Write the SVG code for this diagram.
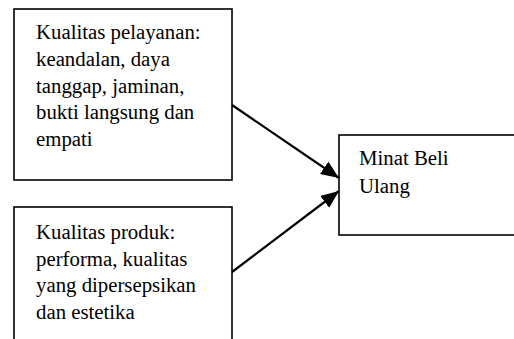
<svg xmlns="http://www.w3.org/2000/svg" width="514" height="339" viewBox="0 0 514 339">
<style>
.box{fill:#fff;stroke:#000;stroke-width:1.6}
.t{font-family:"Liberation Serif","Times New Roman","DejaVu Serif",serif;font-size:20.8px;fill:#000}
.c{stroke:#000;stroke-width:2.2;fill:none}
</style>
<defs>
<marker id="ah2" viewBox="0 0 12 10" refX="12" refY="5" markerWidth="18" markerHeight="15" markerUnits="userSpaceOnUse" orient="auto">
<path d="M0,0 L12,5 L0,10 z" fill="#000"/>
</marker>
</defs>
<rect width="514" height="339" fill="#fff"/>
<g id="n1">
<rect class="box" x="14" y="9" width="218" height="171"/>
<text class="t" x="36" y="39">Kualitas pelayanan:</text>
<text class="t" x="36" y="66">keandalan, daya</text>
<text class="t" x="36" y="92.5">tanggap, jaminan,</text>
<text class="t" x="36" y="119">bukti langsung dan</text>
<text class="t" x="36" y="145.5">empati</text>
</g>
<g id="n2">
<rect class="box" x="14" y="207" width="218" height="150"/>
<text class="t" x="36" y="239">Kualitas produk:</text>
<text class="t" x="36" y="265.5">performa, kualitas</text>
<text class="t" x="36" y="292">yang dipersepsikan</text>
<text class="t" x="36" y="318.5">dan estetika</text>
</g>
<g id="n3">
<rect class="box" x="339" y="135" width="190" height="100"/>
<text class="t" x="359" y="165">Minat Beli</text>
<text class="t" x="359" y="193">Ulang</text>
</g>
<g id="connectors">
<line class="c" x1="232" y1="105" x2="339" y2="178" marker-end="url(#ah2)"/>
<line class="c" x1="232" y1="272" x2="339" y2="191" marker-end="url(#ah2)"/>
</g>
</svg>
